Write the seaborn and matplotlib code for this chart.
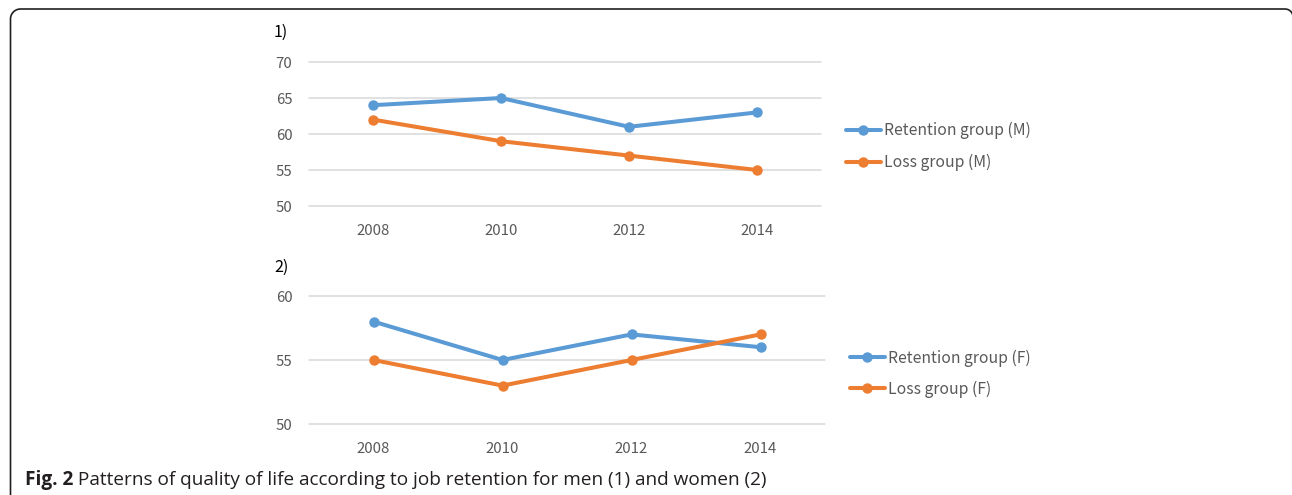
import matplotlib
matplotlib.use("Agg")
import matplotlib.pyplot as plt
import seaborn as sns
import numpy as np
from matplotlib.lines import Line2D

years = ["2008", "2010", "2012", "2014"]
retention_m = [64, 65, 61, 63]
loss_m = [62, 59, 57, 55]
retention_f = [58, 55, 57, 56]
loss_f = [55, 53, 55, 57]
yticks_m = [50, 55, 60, 65, 70]
yticks_f = [50, 55, 60]
caption_bold = "Fig. 2"
caption_rest = " Patterns of quality of life according to job retention for men (1) and women (2)"

BLUE = "#5B9BD5"
ORANGE = "#ED7D31"
GRID = "#D9D9D9"
TXT = "#595959"

sns.set_theme(style="white")
plt.rcParams['font.family'] = ['Noto Sans CJK KR', 'DejaVu Sans']

W, H = 1292, 495
fig = plt.figure(figsize=(W / 100, H / 100), dpi=100)
fig.patch.set_facecolor("white")

ax1 = fig.add_axes([309 / W, 1 - 206 / H, 512 / W, 144 / H])
ax2 = fig.add_axes([309 / W, 1 - 424 / H, 516 / W, 128 / H])

xpos = np.arange(len(years))

def draw(ax, s1, s2, l1, l2, yt):
    sns.lineplot(x=xpos, y=s1, ax=ax, color=BLUE, marker="o", markersize=7.5,
                 markeredgewidth=0, linewidth=2.9, label=l1)
    sns.lineplot(x=xpos, y=s2, ax=ax, color=ORANGE, marker="o", markersize=7.5,
                 markeredgewidth=0, linewidth=2.9, label=l2)
    ax.set_xlim(-0.5, len(years) - 0.5)
    ax.set_ylim(yt[0], yt[-1])
    ax.set_yticks(yt)
    ax.set_xticks(xpos)
    ax.set_xticklabels(years)
    for y in yt:
        ax.axhline(y, color=GRID, linewidth=1.1, zorder=0, clip_on=False)
    for s in ax.spines.values():
        s.set_visible(False)
    ax.tick_params(axis="both", length=0, labelsize=10.8, labelcolor=TXT)
    ax.tick_params(axis="y", pad=12)
    ax.tick_params(axis="x", pad=13)
    ax.set_facecolor("none")
    ax.grid(False)

draw(ax1, retention_m, loss_m, "Retention group (M)", "Loss group (M)", yticks_m)
draw(ax2, retention_f, loss_f, "Retention group (F)", "Loss group (F)", yticks_f)

for ax, anchor, sp in ((ax1, (846 / W, 1 - 146.5 / H), 0.95),
                       (ax2, (850 / W, 1 - 373.5 / H), 0.88)):
    ax.legend(loc="center left", bbox_to_anchor=anchor, bbox_transform=fig.transFigure,
              frameon=False, fontsize=11.3, handlelength=2.2, handletextpad=0.2,
              labelspacing=sp, borderpad=0, borderaxespad=0, labelcolor=TXT)

fig.text(274 / W, 1 - 32 / H, "1)", fontsize=11.5, color="black", va="center", ha="left")
fig.text(274 / W, 1 - 267 / H, "2)", fontsize=11.5, color="black", va="center", ha="left")

# caption
cap_font = ['Open Sans', 'DejaVu Sans']
t1 = fig.text(25 / W, 1 - 480 / H, caption_bold, fontsize=13.65, fontweight="bold",
              family=cap_font, color="#231F20", va="center", ha="left")
fig.canvas.draw()
bb = t1.get_window_extent(renderer=fig.canvas.get_renderer())
fig.text(bb.x1 / W, 1 - 480 / H, caption_rest, fontsize=13.65, family=cap_font,
         color="#231F20", va="center", ha="left")

# decorative frame: left edge, rounded top-left corner, top edge, start of top-right corner
xl, yt_, r1, r2, xr = 10.5, 486.0, 10.0, 8.0, 1285.0
px, py = [xl], [-5.0]
a = np.linspace(np.pi, np.pi / 2, 20)
px += list(xl + r1 + r1 * np.cos(a)); py += list(yt_ - r1 + r1 * np.sin(a))
a = np.linspace(np.pi / 2, 0.15, 20)
px += list(xr + r2 * np.cos(a)); py += list(yt_ - r2 + r2 * np.sin(a))
fig.add_artist(Line2D(np.array(px) / W, np.array(py) / H, transform=fig.transFigure,
                      color="#231F20", linewidth=1.2, solid_capstyle="butt"))

fig.savefig("out.png", dpi=100, facecolor="white")
